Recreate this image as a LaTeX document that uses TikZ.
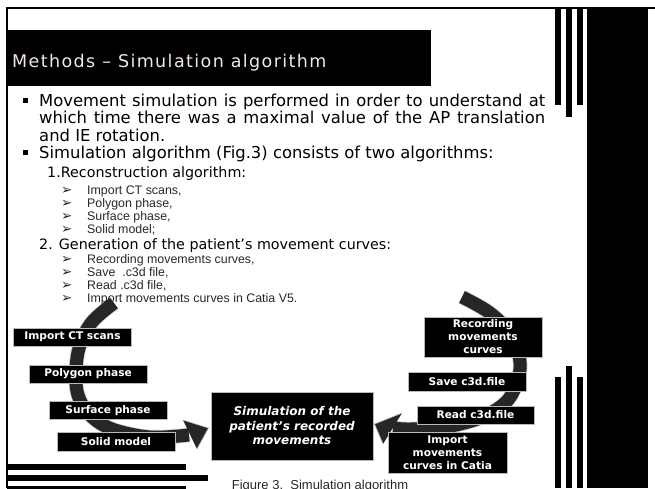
\documentclass[tikz,border=0pt]{standalone}
\usepackage{fontspec}
\setmainfont{DejaVu Sans}
\newfontfamily\arialf{Liberation Sans}
\newfontfamily\titlef[LetterSpace=8]{DejaVu Sans}
\usetikzlibrary{calc}
\pgfdeclarelayer{paper}
\pgfdeclarelayer{bg}
\pgfsetlayers{paper,bg,main}
\definecolor{titlepink}{RGB}{244,230,230}
\definecolor{bandc}{RGB}{38,38,38}
\definecolor{subc}{RGB}{40,40,40}
\begin{document}
\begin{tikzpicture}[x=1pt,y=-1pt,
  box/.style={draw=gray!55, line width=0.8pt, fill=black, text=white, inner sep=0pt,
    align=center, font=\fontsize{10.6}{13}\selectfont\bfseries, minimum width=118pt},
  bigline/.style={anchor=base west, inner sep=0pt, font=\fontsize{16.4}{17.5}\selectfont},
  midline/.style={anchor=base west, inner sep=0pt, font=\fontsize{14.3}{16}\selectfont},
  subline/.style={anchor=base west, inner sep=0pt, text=subc, font=\arialf\fontsize{12.4}{13}\selectfont},
  submark/.style={anchor=base west, inner sep=0pt, text=subc, font=\fontsize{13.5}{14}\selectfont},
  band/.style={line width=0.7pt, draw=gray!45, double=bandc, double distance=13pt},
  headfill/.style={fill=bandc},
  headedge/.style={draw=gray!45, line width=0.7pt},
  bar/.style={fill=black}]
\begin{pgfonlayer}{paper}
\fill[white] (0,0) rectangle (655,488);
\end{pgfonlayer}
\useasboundingbox (0,0) rectangle (655,488);
\clip (0,0) rectangle (655,488);

% frame
\draw[line width=2pt] (6,8) -- (655,8);
\draw[line width=2pt] (7,7) -- (7,488);
\fill[bar] (587,8) rectangle (648,488);
\fill[bar] (555,8) rectangle (561,105);
\fill[bar] (566,8) rectangle (572,117);
\fill[bar] (577,8) rectangle (583,105);
\fill[bar] (555,377) rectangle (561,488);
\fill[bar] (566,366) rectangle (572,488);
\fill[bar] (577,377) rectangle (583,488);
\fill[bar] (7,464) rectangle (186,470);
\fill[bar] (7,475) rectangle (208,481);
\fill[bar] (7,486) rectangle (186,492);

% title
\fill[bar] (7,30) rectangle (431,86);
\node[anchor=base west, inner sep=0pt, text=titlepink, font=\titlef\fontsize{17.5}{20}\selectfont] (title) at (12,67) {Methods – Simulation algorithm};

% bullets
\fill (23,98) rectangle (28,103);
\fill (23,150) rectangle (28,155);
\node[bigline] (l1) at (39,106) {\makebox[506pt][s]{Movement simulation is performed in order to understand at}};
\node[bigline] (l2) at (39,123.5) {\makebox[506pt][s]{which time there was a maximal value of the AP translation}};
\node[bigline] (l3) at (39,141) {and IE rotation.};
\node[bigline] (l4) at (39,158.5) {Simulation algorithm (Fig.3) consists of two algorithms:};
\node[midline] (r1) at (47,177) {1.Reconstruction algorithm:};
\node[submark] (m1) at (61,194) {➢};
\node[subline] (s1) at (87,194) {Import CT scans,};
\node[submark] (m2) at (61,207) {➢};
\node[subline] (s2) at (87,207) {Polygon phase,};
\node[submark] (m3) at (61,220) {➢};
\node[subline] (s3) at (87,220) {Surface phase,};
\node[submark] (m4) at (61,233) {➢};
\node[subline] (s4) at (87,233) {Solid model;};
\node[midline] (r2) at (39,249) {2. Generation of the patient’s movement curves:};
\node[submark] (m5) at (61,263) {➢};
\node[subline] (s5) at (87,263) {Recording movements curves,};
\node[submark] (m6) at (61,276) {➢};
\node[subline] (s6) at (87,276) {Save \ .c3d file,};
\node[submark] (m7) at (61,289) {➢};
\node[subline] (s7) at (87,289) {Read .c3d file,};
\node[submark] (m8) at (61,302) {➢};
\node[subline] (s8) at (87,302) {Import movements curves in Catia V5.};

% diagram boxes
\node[box, minimum height=18pt] (ct) at (72.5,337) {Import CT scans};
\node[box, minimum height=18pt] (poly) at (88,374) {Polygon phase};
\node[box, minimum height=17.5pt] (surf) at (108,410.5) {Surface phase};
\node[box, minimum height=19pt] (solid) at (116,442) {Solid model};
\node[box, minimum width=162pt, minimum height=68pt,
  font=\fontsize{12}{14.5}\selectfont\bfseries\itshape] (sim) at (292,426)
  {Simulation of the\\patient’s recorded\\movements};
\node[box, minimum height=40pt] (rec) at (483,337) {Recording\\movements\\curves};
\node[box, minimum height=19pt] (save) at (467,381.5) {Save c3d.file};
\node[box, minimum height=18pt, minimum width=117pt] (read) at (475.5,415) {Read c3d.file};
\node[box, minimum height=41pt, minimum width=119pt] (imp) at (447.5,452.5) {Import\\movements\\curves in Catia};

% caption
\node[anchor=base, inner sep=0pt, text=subc, font=\arialf\fontsize{13}{15}\selectfont] (cap) at (320,489.5) {Figure 3.\ \ Simulation algorithm};

% circular arrows
\coordinate (Lstart) at (114,303);
\coordinate (Lend) at (189,435);
\coordinate (Ltip) at ($(sim.west)+(-2,2)$);
\coordinate (La) at (183,420);
\coordinate (Lb) at (197,449);
\coordinate (Rstart) at (462,297);
\coordinate (Rend) at (393,428);
\coordinate (Rtip) at ($(sim.east)+(1,-2)$);
\coordinate (Ra) at (402,413);
\coordinate (Rb) at (383,444);
\begin{pgfonlayer}{bg}
\draw[band] plot[smooth, tension=0.6] coordinates {(Lstart) (92,322) (80,345) (76,370) (78,395) (90,415) (112,429) (150,437) (Lend)};
\fill[headfill] (La) -- (Ltip) -- (Lb) -- cycle;
\draw[headedge] (La) -- (Ltip) -- (Lb);
\draw[band] plot[smooth, tension=0.6] coordinates {(Rstart) (490,313) (511,335) (520,362) (516,385) (505,403) (480,418) (445,427) (410,429) (Rend)};
\fill[headfill] (Ra) -- (Rtip) -- (Rb) -- cycle;
\draw[headedge] (Ra) -- (Rtip) -- (Rb);
\end{pgfonlayer}
\end{tikzpicture}
\end{document}
